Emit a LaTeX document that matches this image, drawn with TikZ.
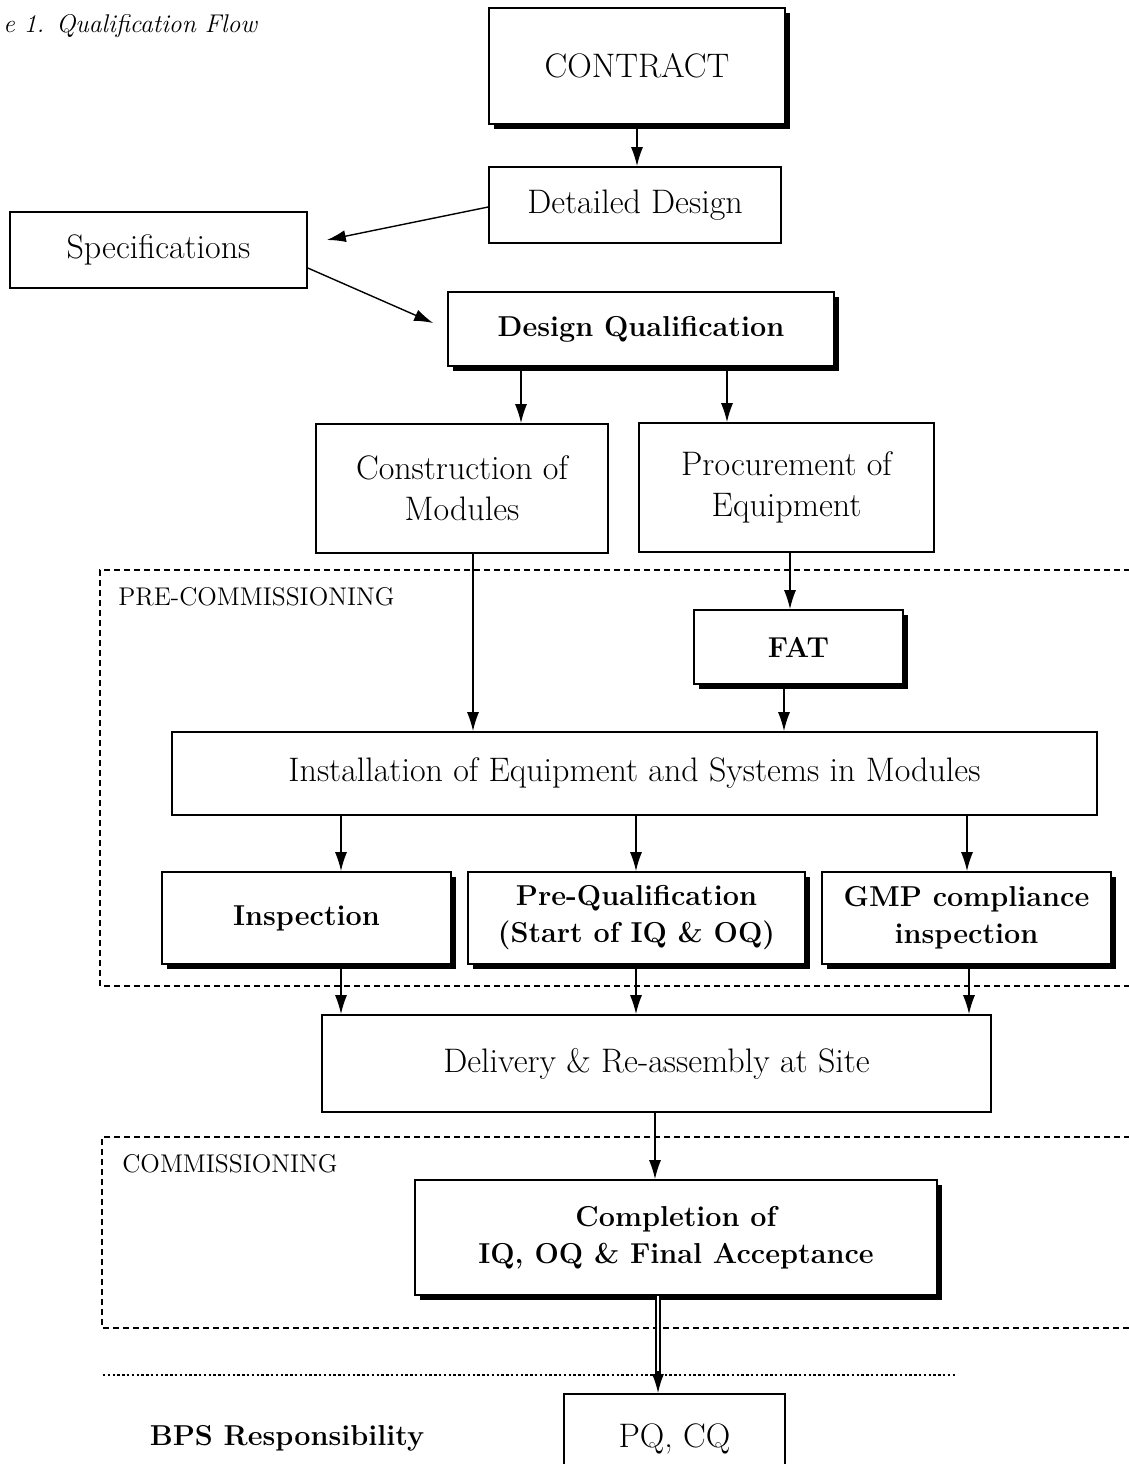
\documentclass[tikz,border=0pt]{standalone}
\usetikzlibrary{arrows.meta,shadows}
\newcommand\myfs{\fontsize{17}{20.5}\selectfont}
\newcommand\mybf{\fontsize{14.4}{18.5}\selectfont\bfseries}
\begin{document}
\begin{tikzpicture}[x=0.5pt,y=-0.5pt,
  box/.style={draw, line width=0.8pt, fill=white, align=center, inner sep=0pt, font=\myfs},
  sbox/.style={box, font=\mybf, drop shadow={shadow xshift=2.5pt, shadow yshift=-2.5pt, opacity=1, fill=black}},
  arr/.style={line width=0.7pt, -{Latex[length=9.5pt,width=6pt]}},
  dashline/.style={line width=0.6pt, dash pattern=on 3pt off 2pt},
  lbl/.style={font=\fontsize{12.8}{15}\selectfont, anchor=west, inner sep=0pt}]
\useasboundingbox (0,0) rectangle (1129,1464);
\clip (0,0) rectangle (1129,1464);
\fill[white] (0,0) rectangle (1129,1464);

\node[anchor=west, inner sep=0pt, font=\fontsize{12.8}{15}\selectfont\itshape] (cap) at (3,26) {e 1. Qualification Flow};

\node[sbox, font=\myfs, minimum width=148pt, minimum height=58pt] (contract) at (637,66) {CONTRACT};
\node[box, minimum width=146pt, minimum height=38pt] (det) at (635,205) {Detailed Design};
\node[box, minimum width=148.5pt, minimum height=38pt] (spec) at (158.5,250) {Specifications};
\node[sbox, minimum width=193pt, minimum height=37pt] (dq) at (641,329) {Design Qualification};
\node[box, minimum width=146pt, minimum height=64.5pt] (cons) at (462,488.5) {Construction of\\Modules};
\node[box, minimum width=147.5pt, minimum height=64.5pt] (proc) at (786.5,487.5) {Procurement of\\Equipment};

\draw[dashline] (1140,570) -- (100,570) -- (100,986) -- (1140,986);
\node[lbl] (prelbl) at (118,597) {PRE-COMMISSIONING};

\node[sbox, minimum width=104.5pt, minimum height=37pt] (fat) at (798.5,647) {FAT};
\node[box, minimum width=462.5pt, minimum height=41.5pt] (inst) at (634.5,773.5) {Installation of Equipment and Systems in Modules};
\node[sbox, minimum width=144.5pt, minimum height=46pt] (insp) at (306.5,918) {Inspection};
\node[sbox, minimum width=168.5pt, minimum height=46pt] (preq) at (636.5,918) {Pre-Qualification\\(Start of IQ \& OQ)};
\node[sbox, minimum width=144.5pt, minimum height=46pt] (gmp) at (966.5,918) {GMP compliance\\inspection};
\node[box, minimum width=334.5pt, minimum height=48.5pt] (deliv) at (656.5,1063.5) {Delivery \& Re-assembly at Site};

\draw[dashline] (1140,1137) -- (102,1137) -- (102,1328) -- (1140,1328);
\node[lbl] (comlbl) at (122,1164) {COMMISSIONING};

\node[sbox, minimum width=261pt, minimum height=57.5pt] (comp) at (676,1237.5) {Completion of\\IQ, OQ \& Final Acceptance};

\draw[line width=0.7pt, dash pattern=on 1.2pt off 1.2pt] (103,1375) -- (955,1375);

\node[box, anchor=north, minimum width=110.5pt, text height=27pt, text depth=25pt] (pq) at (674.5,1393) {PQ, CQ};
\coordinate (pqtop) at (658,1393);
\node[inner sep=0pt, font=\mybf] (bps) at (287,1438) {BPS Responsibility};

% connectors
\draw[arr] (contract.south -| 637,0) -- (det.north -| 637,0);
\draw[arr] ([yshift=-1pt]det.west) -- ([xshift=9.5pt,yshift=5pt]spec.east);
\draw[arr] ([yshift=-9pt]spec.east) -- ([xshift=-7pt,yshift=3pt]dq.west);
\draw[arr] (dq.south -| 521,0) -- (cons.north -| 521,0);
\draw[arr] (dq.south -| 727,0) -- (proc.north -| 727,0);
\draw[arr] (cons.south -| 473,0) -- (inst.north -| 473,0);
\draw[arr] (proc.south -| 790,0) -- (fat.north -| 790,0);
\draw[arr] (fat.south -| 784,0) -- (inst.north -| 784,0);
\draw[arr] (inst.south -| 341,0) -- (insp.north -| 341,0);
\draw[arr] (inst.south -| 636,0) -- (preq.north -| 636,0);
\draw[arr] (inst.south -| 967,0) -- (gmp.north -| 967,0);
\draw[arr] (insp.south -| 341,0) -- (deliv.north -| 341,0);
\draw[arr] (preq.south -| 636,0) -- (deliv.north -| 636,0);
\draw[arr] (gmp.south -| 969,0) -- (deliv.north -| 969,0);
\draw[arr] (deliv.south -| 655,0) -- (comp.north -| 655,0);
\draw[line width=0.6pt, double, double distance=1.4pt] (comp.south -| pqtop) -- ([yshift=8pt]pqtop);
\draw[arr] ([yshift=11pt]pqtop) -- (pqtop);
\end{tikzpicture}
\end{document}
